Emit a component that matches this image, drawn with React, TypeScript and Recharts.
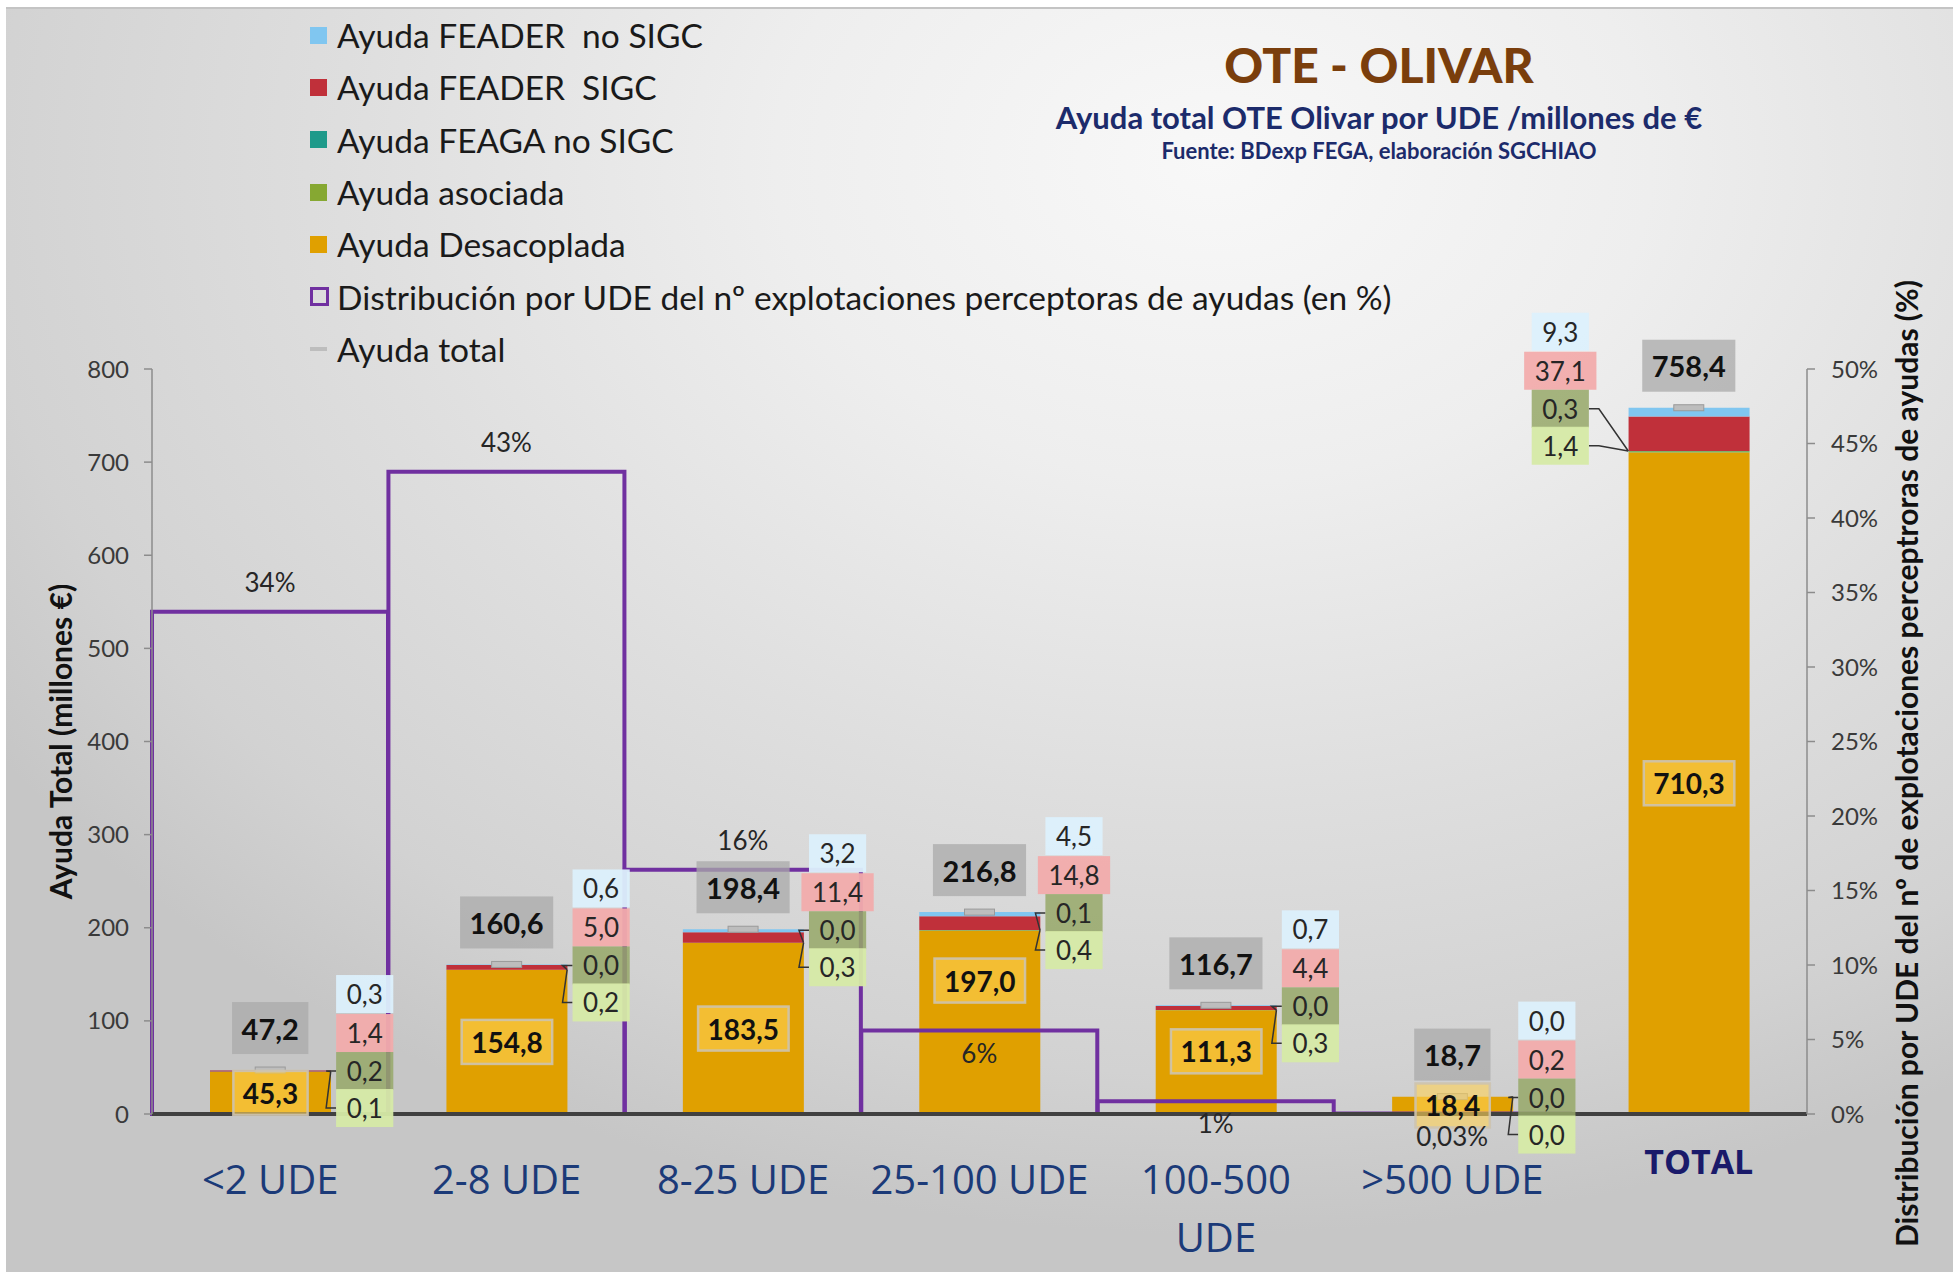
import React from 'react';
import { ComposedChart, Bar, Line, XAxis, YAxis, Legend, LabelList } from 'recharts';

// ---------- data ----------
const categories = ['<2 UDE', '2-8 UDE', '8-25 UDE', '25-100 UDE', '100-500 UDE', '>500 UDE', 'TOTAL'];
const desacoplada = [45.3, 154.8, 183.5, 197.0, 111.3, 18.4, 710.3];
const asociada = [0.1, 0.2, 0.3, 0.4, 0.3, 0.0, 1.4];
const feagaNoSigc = [0.2, 0.0, 0.0, 0.1, 0.0, 0.0, 0.3];
const feaderSigc = [1.4, 5.0, 11.4, 14.8, 4.4, 0.2, 37.1];
const feaderNoSigc = [0.3, 0.6, 3.2, 4.5, 0.7, 0.0, 9.3];
const ayudaTotal = [47.2, 160.6, 198.4, 216.8, 116.7, 18.7, 758.4];
const distribucionPct = [33.7, 43.1, 16.4, 5.6, 0.85, 0.03, null];

const leftTicks = [0, 100, 200, 300, 400, 500, 600, 700, 800];
const rightTicks = [0, 5, 10, 15, 20, 25, 30, 35, 40, 45, 50];

const seriesNames = {
  feaderNoSigc: 'Ayuda FEADER  no SIGC',
  feaderSigc: 'Ayuda FEADER  SIGC',
  feagaNoSigc: 'Ayuda FEAGA no SIGC',
  asociada: 'Ayuda asociada',
  desacoplada: 'Ayuda Desacoplada',
  distribucion: 'Distribución por UDE del nº explotaciones perceptoras de ayudas (en %)',
  total: 'Ayuda total',
};

const data = categories.map((cat, i) => ({
  cat,
  desacoplada: desacoplada[i],
  asociada: asociada[i],
  feagaNoSigc: feagaNoSigc[i],
  feaderSigc: feaderSigc[i],
  feaderNoSigc: feaderNoSigc[i],
  total: ayudaTotal[i],
  distribucion: distribucionPct[i],
}));

// ---------- layout ----------
const W = 1959;
const H = 1273;
const PLOT_LEFT = 152;
const PLOT_RIGHT = 1807;
const PLOT_TOP = 369;
const PLOT_BOTTOM = 1114;
const LEFT_AXIS_W = 100;
const RIGHT_AXIS_W = 140;
const XAXIS_H = 130;
const Y_MAX = 800;
const PCT_MAX = 50;
const BAND = (PLOT_RIGHT - PLOT_LEFT) / categories.length;
const BAR_W = 121;
const K = (PLOT_BOTTOM - PLOT_TOP) / Y_MAX;
const KP = (PLOT_BOTTOM - PLOT_TOP) / PCT_MAX;

const COLORS = {
  desacoplada: '#E0A000',
  asociada: '#86A832',
  feagaNoSigc: '#1E9A8A',
  feaderSigc: '#C0303A',
  feaderNoSigc: '#80C6F0',
  distribucion: '#7030A0',
  total: '#BDBDBD',
};

const FONT = 'Lato, "Open Sans", sans-serif';
const CAT_FONT = '"Open Sans", "Noto Sans", sans-serif';
const CAT_SIZE = 40;

const fmt1 = (v: number) => v.toFixed(1).replace('.', ',');
const fmtPct = (v: number) => (v < 0.5 ? v.toFixed(2).replace('.', ',') : String(Math.round(v))) + '%';
const textW = (s: string, size: number) => {
  let w = 0;
  for (const ch of s) w += ch === ',' ? 0.27 : ch === '.' ? 0.27 : 0.58;
  return w * size;
};

let measureCtx: CanvasRenderingContext2D | null = null;
const measure = (s: string, font: string) => {
  if (typeof document === 'undefined') return s.length * 0.55 * CAT_SIZE;
  if (!measureCtx) measureCtx = document.createElement('canvas').getContext('2d');
  if (!measureCtx) return s.length * 0.55 * CAT_SIZE;
  measureCtx.font = font;
  return measureCtx.measureText(s).width;
};

const wrapLabel = (s: string, maxW: number) => {
  const font = `${CAT_SIZE}px "Open Sans"`;
  if (measure(s, font) <= maxW) return [s];
  const words = s.split(' ');
  const lines: string[] = [];
  let cur = '';
  for (const w of words) {
    const t = cur ? cur + ' ' + w : w;
    if (cur && measure(t, font) > maxW) {
      lines.push(cur);
      cur = w;
    } else cur = t;
  }
  if (cur) lines.push(cur);
  return lines;
};

// ---------- custom renderers ----------
const InnerLabel = (props: any) => {
  const { x, y, width, height, value, index } = props;
  if (value == null) return null;
  const s = fmt1(value);
  const fs = 28;
  const bw = textW(s, fs) + 18;
  const bh = 44;
  const cx = x + width / 2;
  let cy = y + height / 2;
  // keep the box clear of the distribution step line and its label
  const pct = distribucionPct[index];
  if (pct != null && pct < 10) {
    const lineY = PLOT_BOTTOM - pct * KP;
    const bottom = cy + bh / 2;
    if (lineY < bottom + 28) {
      const newCy = lineY - 28 - bh / 2;
      if (newCy - bh / 2 >= y) cy = newCy;
    }
  }
  return (
    <g>
      <rect x={cx - bw / 2} y={cy - bh / 2} width={bw} height={bh} fill="rgba(255,210,85,0.6)" stroke="rgba(205,195,175,0.9)" strokeWidth={2.5} />
      <text x={cx} y={cy} textAnchor="middle" dominantBaseline="central" fontFamily={FONT} fontWeight={700} fontSize={fs} fill="#111">
        {s}
      </text>
    </g>
  );
};

const PctLabel = (props: any) => {
  const { x, y, width, value } = props;
  if (value == null) return null;
  const cx = x + width / 2;
  const cy = value >= 10 ? y - 30 : y + 22;
  return (
    <text x={cx} y={cy} textAnchor="middle" dominantBaseline="central" fontFamily={FONT} fontSize={26} fill="#262626">
      {fmtPct(value)}
    </text>
  );
};

const TotalMarker = (props: any) => {
  const { cx, cy, index } = props;
  if (cx == null || cy == null) return <g key={`m-${index}`} />;
  return <rect key={`m-${index}`} x={cx - 15} y={cy - 3} width={30} height={6} fill={COLORS.total} stroke="#9A9A9A" strokeWidth={1} />;
};

const Callouts = (props: any) => {
  const { x, y, value, index } = props;
  if (value == null || x == null) return null;
  const i = index;
  const half = BAR_W / 2;
  const onLeft = i === categories.length - 1;
  const edgeX = onLeft ? x - half : x + half;
  const colX = onLeft ? x - half - 68 : x + half + 34;
  const anchorY = y + (feaderSigc[i] + feaderNoSigc[i]) * K;
  const items = [
    { v: feaderNoSigc[i], fill: 'rgba(220,240,252,0.95)', off: -76, leader: false },
    { v: feaderSigc[i], fill: 'rgba(242,172,172,0.95)', off: -37, leader: false },
    { v: feagaNoSigc[i], fill: 'rgba(150,168,105,0.85)', off: 1, leader: true },
    { v: asociada[i], fill: 'rgba(214,234,166,0.95)', off: 38, leader: true },
  ];
  const fs = 26;
  const totalStr = fmt1(value);
  const tw = textW(totalStr, 29) + 18;
  return (
    <g>
      {items.map((it, k) => {
        const s = fmt1(it.v);
        const bw = Math.max(textW(s, fs) + 20, 54);
        const bh = 38;
        const by = y + it.off;
        const boxEdge = onLeft ? colX + bw / 2 : colX - bw / 2;
        const elbow = onLeft ? boxEdge + 10 : boxEdge - 10;
        return (
          <g key={k}>
            {it.leader && (
              <polyline points={`${boxEdge},${by} ${elbow},${by} ${edgeX},${anchorY}`} fill="none" stroke="#333" strokeWidth={1.5} />
            )}
            <rect x={colX - bw / 2} y={by - bh / 2} width={bw} height={bh} fill={it.fill} />
            <text x={colX} y={by} textAnchor="middle" dominantBaseline="central" fontFamily={FONT} fontSize={fs} fill="#262626">
              {s}
            </text>
          </g>
        );
      })}
      <rect x={x - tw / 2} y={y - 42 - 26} width={tw} height={52} fill="rgba(170,170,170,0.75)" />
      <text x={x} y={y - 42} textAnchor="middle" dominantBaseline="central" fontFamily={FONT} fontWeight={700} fontSize={29} fill="#111">
        {totalStr}
      </text>
    </g>
  );
};

const CategoryTick = (props: any) => {
  const { x, y, payload } = props;
  if (payload.value === 'TOTAL') {
    return (
      <text x={x + 10} y={y + 47} textAnchor="middle" dominantBaseline="central" fontFamily={CAT_FONT} fontWeight={700} fontSize={34} fill="#1A1A6A">
        {payload.value}
      </text>
    );
  }
  const lines = wrapLabel(String(payload.value), BAND - 8);
  return (
    <text x={x} y={y + 80} textAnchor="middle" fontFamily={CAT_FONT} fontSize={CAT_SIZE} fill="#1B3A78">
      {lines.map((l, k) => (
        <tspan key={k} x={x} dy={k === 0 ? 0 : 58}>
          {l}
        </tspan>
      ))}
    </text>
  );
};

const LeftTitle = (props: any) => {
  const { viewBox } = props;
  const cx = 60;
  const cy = viewBox.y + viewBox.height / 2;
  return (
    <text x={cx} y={cy} transform={`rotate(-90 ${cx} ${cy})`} textAnchor="middle" dominantBaseline="central" fontFamily={FONT} fontWeight={700} fontSize={30} fill="#111">
      Ayuda Total (millones €)
    </text>
  );
};

const RightTitle = (props: any) => {
  const { viewBox } = props;
  const cx = 1906;
  const cy = viewBox.y + viewBox.height / 2 + 22;
  return (
    <text x={cx} y={cy} transform={`rotate(-90 ${cx} ${cy})`} textAnchor="middle" dominantBaseline="central" fontFamily={FONT} fontWeight={700} fontSize={30} fill="#111">
      Distribución por UDE del nº de explotaciones perceptroras de ayudas (%)
    </text>
  );
};

const legendItems = [
  { key: 'feaderNoSigc', kind: 'square' },
  { key: 'feaderSigc', kind: 'square' },
  { key: 'feagaNoSigc', kind: 'square' },
  { key: 'asociada', kind: 'square' },
  { key: 'desacoplada', kind: 'square' },
  { key: 'distribucion', kind: 'hollow' },
  { key: 'total', kind: 'dash' },
];

const LegendContent = () => (
  <div style={{ fontFamily: FONT, fontSize: 33.5, color: '#1a1a1a' }}>
    {legendItems.map((it) => {
      const color = (COLORS as any)[it.key];
      let marker;
      if (it.kind === 'square') marker = <span style={{ display: 'inline-block', width: 17, height: 17, background: color }} />;
      else if (it.kind === 'hollow')
        marker = <span style={{ display: 'inline-block', width: 13, height: 13, border: `3px solid ${color}`, background: 'transparent' }} />;
      else marker = <span style={{ display: 'inline-block', width: 17, height: 4, background: '#BDBDBD' }} />;
      return (
        <div key={it.key} style={{ height: 52.3, display: 'flex', alignItems: 'center', whiteSpace: 'pre' }}>
          <span style={{ width: 27, display: 'inline-flex', alignItems: 'center', paddingLeft: 4 }}>{marker}</span>
          <span>{(seriesNames as any)[it.key]}</span>
        </div>
      );
    })}
  </div>
);

export default function App() {
  return (
    <div style={{ position: 'absolute', left: 0, top: 0, width: W, height: H, background: '#ffffff', overflow: 'hidden' }}>
      <div
        style={{
          position: 'absolute',
          left: 6,
          top: 7,
          width: W - 12,
          height: H - 10,
          borderTop: '2px solid #c4c4c4',
          background:
            'radial-gradient(ellipse 75% 85% at 62% 12%, #f8f8f8 0%, #eeeeee 30%, #dedede 60%, #d2d2d2 85%, #c6c6c6 100%)',
        }}
      />
      <div style={{ position: 'absolute', left: 979, width: 800, top: 36, textAlign: 'center', fontFamily: FONT }}>
        <div style={{ fontSize: 48, fontWeight: 900, color: '#7A3E0C', lineHeight: '58px' }}>OTE - OLIVAR</div>
        <div style={{ fontSize: 31, fontWeight: 700, color: '#1C2B6B', lineHeight: '38px', marginTop: 4 }}>
          Ayuda total OTE Olivar por UDE /millones de €
        </div>
        <div style={{ fontSize: 22, fontWeight: 700, color: '#1C2B6B', lineHeight: '30px' }}>Fuente: BDexp FEGA, elaboración SGCHIAO</div>
      </div>
      <div style={{ position: 'absolute', left: 0, top: 0 }}>
        <ComposedChart
          width={W}
          height={H}
          data={data}
          margin={{ top: PLOT_TOP, left: PLOT_LEFT - LEFT_AXIS_W, right: W - PLOT_RIGHT - RIGHT_AXIS_W, bottom: H - PLOT_BOTTOM - XAXIS_H }}
        >
          <XAxis
            xAxisId="main"
            dataKey="cat"
            height={XAXIS_H}
            interval={0}
            tickLine={false}
            tickSize={0}
            tickMargin={0}
            axisLine={{ stroke: '#404040', strokeWidth: 4 }}
            tick={<CategoryTick />}
          />
          <XAxis xAxisId="hist" dataKey="cat" orientation="top" height={0} hide />
          <YAxis
            yAxisId="left"
            width={LEFT_AXIS_W}
            domain={[0, Y_MAX]}
            ticks={leftTicks}
            interval={0}
            axisLine={{ stroke: '#8c8c8c', strokeWidth: 1.5 }}
            tickLine={{ stroke: '#8c8c8c', strokeWidth: 1.5 }}
            tickSize={8}
            tickMargin={15}
            tick={{ fontFamily: FONT, fontSize: 24, fill: '#3a3a3a' }}
            label={<LeftTitle />}
          />
          <YAxis
            yAxisId="right"
            orientation="right"
            width={RIGHT_AXIS_W}
            domain={[0, PCT_MAX]}
            ticks={rightTicks}
            interval={0}
            tickFormatter={(v: number) => `${v}%`}
            axisLine={{ stroke: '#8c8c8c', strokeWidth: 1.5 }}
            tickLine={{ stroke: '#8c8c8c', strokeWidth: 1.5 }}
            tickSize={8}
            tickMargin={16}
            tick={{ fontFamily: FONT, fontSize: 24, fill: '#3a3a3a' }}
            label={<RightTitle />}
          />
          <Legend
            layout="vertical"
            align="center"
            verticalAlign="middle"
            content={<LegendContent />}
            wrapperStyle={{ position: 'absolute', left: 306, top: 9, width: 1300, height: 370 }}
          />
          <Bar xAxisId="main" yAxisId="left" dataKey="desacoplada" name={seriesNames.desacoplada} stackId="s" fill={COLORS.desacoplada} barSize={BAR_W} isAnimationActive={false}>
            <LabelList dataKey="desacoplada" content={<InnerLabel />} />
          </Bar>
          <Bar xAxisId="main" yAxisId="left" dataKey="asociada" name={seriesNames.asociada} stackId="s" fill={COLORS.asociada} barSize={BAR_W} isAnimationActive={false} />
          <Bar xAxisId="main" yAxisId="left" dataKey="feagaNoSigc" name={seriesNames.feagaNoSigc} stackId="s" fill={COLORS.feagaNoSigc} barSize={BAR_W} isAnimationActive={false} />
          <Bar xAxisId="main" yAxisId="left" dataKey="feaderSigc" name={seriesNames.feaderSigc} stackId="s" fill={COLORS.feaderSigc} barSize={BAR_W} isAnimationActive={false} />
          <Bar xAxisId="main" yAxisId="left" dataKey="feaderNoSigc" name={seriesNames.feaderNoSigc} stackId="s" fill={COLORS.feaderNoSigc} barSize={BAR_W} isAnimationActive={false} />
          <Bar
            xAxisId="hist"
            yAxisId="right"
            dataKey="distribucion"
            name={seriesNames.distribucion}
            fill="none"
            stroke={COLORS.distribucion}
            strokeWidth={4}
            barSize={Math.floor(BAND)}
            isAnimationActive={false}
          >
            <LabelList dataKey="distribucion" content={<PctLabel />} />
          </Bar>
          <Line
            xAxisId="main"
            yAxisId="left"
            dataKey="total"
            name={seriesNames.total}
            stroke="none"
            dot={TotalMarker}
            activeDot={false}
            isAnimationActive={false}
          >
            <LabelList dataKey="total" content={<Callouts />} />
          </Line>
        </ComposedChart>
      </div>
    </div>
  );
}
